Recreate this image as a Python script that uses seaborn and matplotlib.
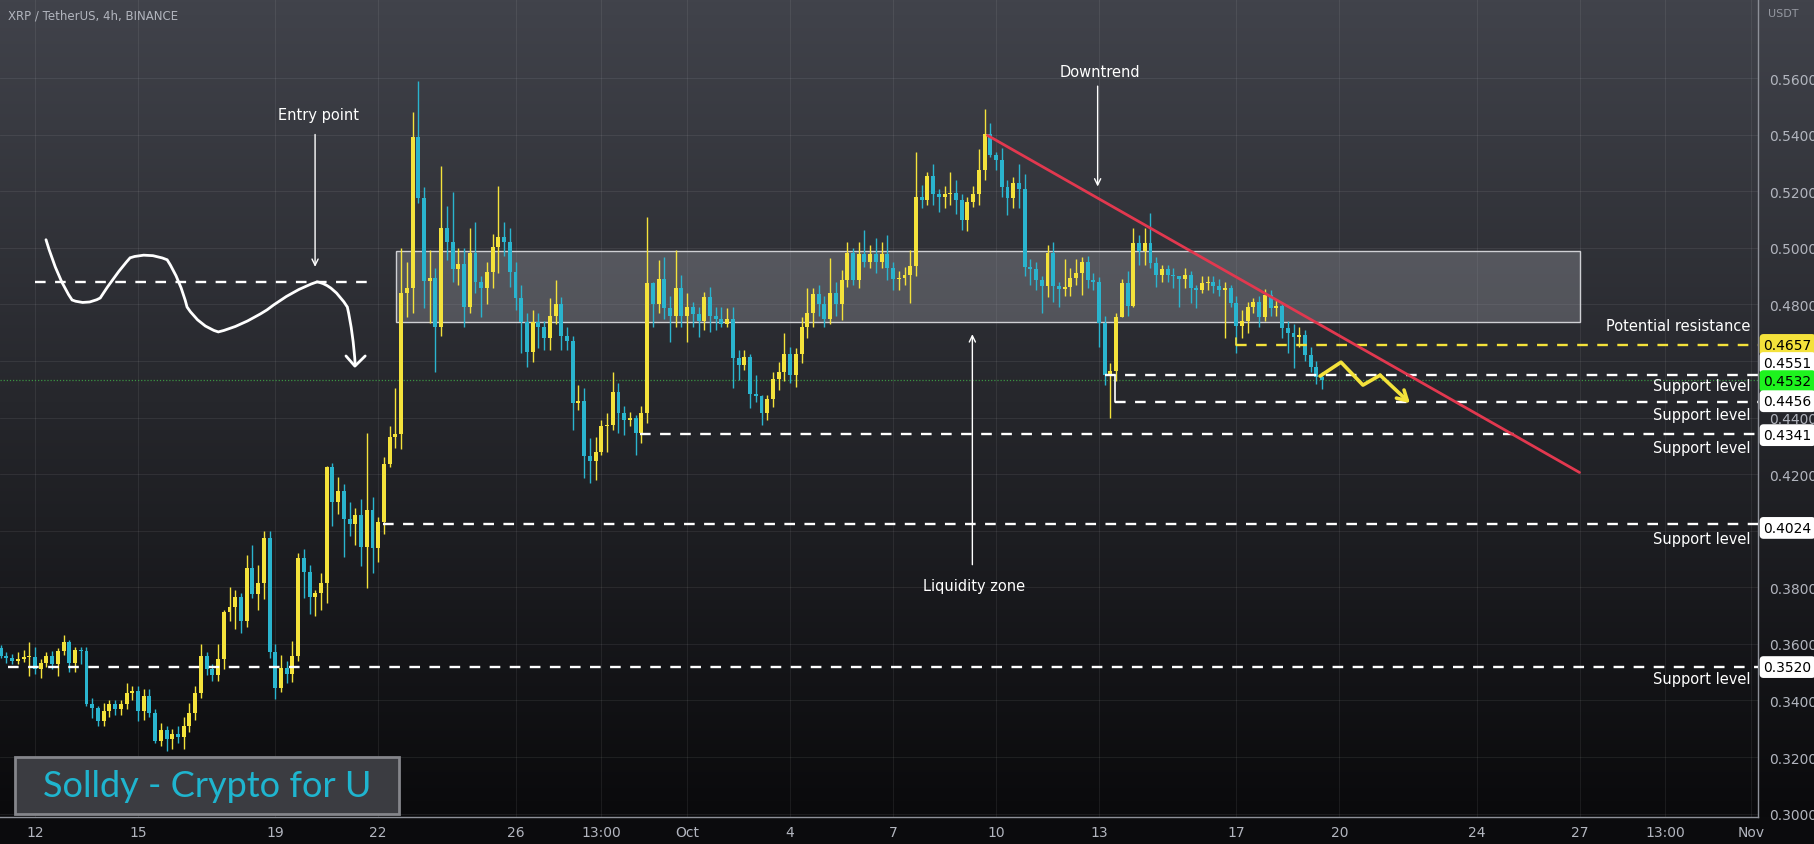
import numpy as np
import pandas as pd
import matplotlib
matplotlib.use('Agg')
import matplotlib.pyplot as plt
import matplotlib.patches as mpatches
import matplotlib.transforms as mtransforms
from matplotlib.path import Path
import seaborn as sns

# XRP / USDT 4h candles (Sep 11 2022 -> Oct 19 2022)
first_open = 0.3586
closes = [
    0.3557, 0.3550, 0.3540, 0.3548, 0.3552, 0.3553, 0.3511, 0.3534, 0.3557, 0.3529,
    0.3575, 0.3606, 0.3534, 0.3580, 0.3574, 0.3386, 0.3374, 0.3327, 0.3362, 0.3386,
    0.3370, 0.3386, 0.3428, 0.3434, 0.3363, 0.3416, 0.3357, 0.3256, 0.3297, 0.3262,
    0.3282, 0.3270, 0.3310, 0.3357, 0.3428, 0.3557, 0.3510, 0.3490, 0.3546, 0.3711,
    0.3729, 0.3764, 0.3682, 0.3869, 0.3777, 0.3817, 0.3976, 0.3571, 0.3444, 0.3515,
    0.3495, 0.3557, 0.3905, 0.3853, 0.3764, 0.3780, 0.3817, 0.4224, 0.4101, 0.4142,
    0.4042, 0.4024, 0.4054, 0.3942, 0.4072, 0.3940, 0.4030, 0.4237, 0.4332, 0.4343,
    0.4841, 0.4860, 0.5391, 0.5178, 0.4883, 0.4895, 0.4720, 0.5071, 0.5021, 0.4925,
    0.4943, 0.4791, 0.4982, 0.4880, 0.4857, 0.4915, 0.5003, 0.5038, 0.5022, 0.4915,
    0.4822, 0.4737, 0.4631, 0.4737, 0.4720, 0.4680, 0.4760, 0.4800, 0.4690, 0.4670,
    0.4450, 0.4460, 0.4265, 0.4245, 0.4280, 0.4370, 0.4375, 0.4490, 0.4415, 0.4390,
    0.4400, 0.4345, 0.4415, 0.4877, 0.4800, 0.4890, 0.4786, 0.4760, 0.4860, 0.4760,
    0.4790, 0.4765, 0.4740, 0.4825, 0.4760, 0.4750, 0.4730, 0.4750, 0.4610, 0.4585,
    0.4615, 0.4485, 0.4475, 0.4415, 0.4465, 0.4535, 0.4560, 0.4625, 0.4550, 0.4625,
    0.4720, 0.4770, 0.4836, 0.4800, 0.4750, 0.4840, 0.4800, 0.4885, 0.4983, 0.4885,
    0.4980, 0.4950, 0.4980, 0.4950, 0.4980, 0.4930, 0.4890, 0.4895, 0.4905, 0.4935,
    0.5180, 0.5170, 0.5253, 0.5190, 0.5180, 0.5190, 0.5195, 0.5170, 0.5097, 0.5163,
    0.5190, 0.5277, 0.5402, 0.5330, 0.5310, 0.5217, 0.5175, 0.5228, 0.5210, 0.4933,
    0.4925, 0.4888, 0.4865, 0.4983, 0.4865, 0.4853, 0.4862, 0.4894, 0.4910, 0.4950,
    0.4887, 0.4880, 0.4735, 0.4550, 0.4565, 0.4756, 0.4876, 0.4795, 0.5018, 0.4990,
    0.5018, 0.4945, 0.4905, 0.4925, 0.4905, 0.4900, 0.4890, 0.4905, 0.4857, 0.4850,
    0.4876, 0.4880, 0.4865, 0.4850, 0.4860, 0.4806, 0.4725, 0.4740, 0.4790, 0.4810,
    0.4756, 0.4834, 0.4787, 0.4795, 0.4716, 0.4700, 0.4686, 0.4692, 0.4621, 0.4580,
    0.4543, 0.4532]

highs = [
    0.3595, 0.3570, 0.3565, 0.3570, 0.3580, 0.3605, 0.3590, 0.3545, 0.3570, 0.3575,
    0.3585, 0.3630, 0.3612, 0.3590, 0.3590, 0.3590, 0.3410, 0.3380, 0.3390, 0.3400,
    0.3400, 0.3400, 0.3460, 0.3450, 0.3450, 0.3440, 0.3440, 0.3370, 0.3320, 0.3310,
    0.3300, 0.3310, 0.3340, 0.3390, 0.3450, 0.3600, 0.3570, 0.3530, 0.3600, 0.3720,
    0.3800, 0.3790, 0.3780, 0.3913, 0.3950, 0.3880, 0.4000, 0.4000, 0.3600, 0.3560,
    0.3540, 0.3610, 0.3920, 0.3937, 0.3880, 0.3790, 0.3850, 0.4230, 0.4238, 0.4190,
    0.4165, 0.4100, 0.4080, 0.4114, 0.4345, 0.4118, 0.4050, 0.4260, 0.4370, 0.4505,
    0.5000, 0.4951, 0.5480, 0.5590, 0.5214, 0.4994, 0.4930, 0.5290, 0.5147, 0.5196,
    0.5000, 0.5000, 0.5070, 0.5090, 0.4900, 0.4950, 0.5050, 0.5220, 0.5090, 0.5070,
    0.4950, 0.4870, 0.4770, 0.4780, 0.4770, 0.4740, 0.4823, 0.4887, 0.4827, 0.4720,
    0.4690, 0.4515, 0.4504, 0.4327, 0.4330, 0.4391, 0.4415, 0.4560, 0.4522, 0.4440,
    0.4420, 0.4410, 0.4440, 0.5110, 0.4880, 0.4958, 0.4969, 0.4830, 0.4994, 0.4905,
    0.4840, 0.4810, 0.4790, 0.4845, 0.4862, 0.4790, 0.4790, 0.4788, 0.4790, 0.4640,
    0.4640, 0.4625, 0.4550, 0.4480, 0.4480, 0.4560, 0.4596, 0.4699, 0.4650, 0.4646,
    0.4756, 0.4859, 0.4860, 0.4870, 0.4830, 0.4965, 0.4880, 0.4923, 0.5022, 0.5000,
    0.5020, 0.5064, 0.5010, 0.5036, 0.5020, 0.5045, 0.4950, 0.4920, 0.4933, 0.4994,
    0.5340, 0.5224, 0.5270, 0.5295, 0.5210, 0.5218, 0.5267, 0.5240, 0.5190, 0.5180,
    0.5220, 0.5348, 0.5490, 0.5440, 0.5340, 0.5355, 0.5240, 0.5250, 0.5295, 0.5260,
    0.4960, 0.4950, 0.4900, 0.5010, 0.5022, 0.4880, 0.4960, 0.4930, 0.4960, 0.4969,
    0.4970, 0.4910, 0.4898, 0.4760, 0.4593, 0.4770, 0.4890, 0.4920, 0.5070, 0.5045,
    0.5070, 0.5125, 0.4969, 0.4940, 0.4940, 0.4930, 0.4900, 0.4930, 0.4920, 0.4870,
    0.4900, 0.4900, 0.4900, 0.4890, 0.4880, 0.4870, 0.4830, 0.4780, 0.4810, 0.4823,
    0.4830, 0.4855, 0.4852, 0.4820, 0.4810, 0.4740, 0.4730, 0.4720, 0.4710, 0.4650,
    0.4600, 0.4560]

lows = [
    0.3550, 0.3534, 0.3530, 0.3530, 0.3535, 0.3487, 0.3495, 0.3480, 0.3520, 0.3510,
    0.3487, 0.3560, 0.3500, 0.3500, 0.3530, 0.3380, 0.3339, 0.3310, 0.3310, 0.3340,
    0.3350, 0.3350, 0.3370, 0.3400, 0.3327, 0.3330, 0.3340, 0.3250, 0.3240, 0.3220,
    0.3230, 0.3250, 0.3230, 0.3290, 0.3330, 0.3410, 0.3490, 0.3468, 0.3468, 0.3510,
    0.3680, 0.3652, 0.3640, 0.3660, 0.3763, 0.3720, 0.3760, 0.3550, 0.3405, 0.3430,
    0.3460, 0.3465, 0.3540, 0.3763, 0.3706, 0.3700, 0.3720, 0.3745, 0.4018, 0.4060,
    0.3906, 0.3980, 0.3950, 0.3876, 0.3798, 0.3850, 0.3890, 0.3990, 0.4224, 0.4291,
    0.4290, 0.4756, 0.4770, 0.5160, 0.4788, 0.4734, 0.4560, 0.4690, 0.4958, 0.4880,
    0.4870, 0.4720, 0.4770, 0.4840, 0.4756, 0.4800, 0.4860, 0.4910, 0.4970, 0.4863,
    0.4780, 0.4628, 0.4579, 0.4596, 0.4646, 0.4640, 0.4640, 0.4730, 0.4640, 0.4640,
    0.4355, 0.4426, 0.4185, 0.4170, 0.4178, 0.4267, 0.4277, 0.4355, 0.4345, 0.4340,
    0.4370, 0.4267, 0.4309, 0.4380, 0.4720, 0.4770, 0.4750, 0.4667, 0.4720, 0.4720,
    0.4667, 0.4720, 0.4685, 0.4710, 0.4703, 0.4710, 0.4720, 0.4720, 0.4504, 0.4533,
    0.4568, 0.4433, 0.4455, 0.4373, 0.4391, 0.4437, 0.4497, 0.4530, 0.4522, 0.4510,
    0.4593, 0.4680, 0.4720, 0.4760, 0.4720, 0.4730, 0.4760, 0.4745, 0.4862, 0.4870,
    0.4860, 0.4933, 0.4930, 0.4910, 0.4930, 0.4887, 0.4852, 0.4850, 0.4870, 0.4805,
    0.4900, 0.5142, 0.5153, 0.5150, 0.5128, 0.5140, 0.5150, 0.5120, 0.5064, 0.5060,
    0.5146, 0.5150, 0.5240, 0.5320, 0.5277, 0.5180, 0.5118, 0.5142, 0.5140, 0.4900,
    0.4870, 0.4852, 0.4770, 0.4827, 0.4810, 0.4790, 0.4830, 0.4830, 0.4870, 0.4834,
    0.4860, 0.4850, 0.4650, 0.4515, 0.4400, 0.4530, 0.4760, 0.4760, 0.4790, 0.4940,
    0.4940, 0.4930, 0.4862, 0.4880, 0.4880, 0.4860, 0.4790, 0.4860, 0.4805, 0.4788,
    0.4840, 0.4850, 0.4840, 0.4830, 0.4680, 0.4790, 0.4628, 0.4680, 0.4700, 0.4770,
    0.4720, 0.4740, 0.4760, 0.4760, 0.4680, 0.4628, 0.4575, 0.4650, 0.4600, 0.4560,
    0.4520, 0.4500]

# time axis
start = pd.Timestamp('2022-09-11 00:00')
tick_dates = ['2022-09-12', '2022-09-15', '2022-09-19', '2022-09-22', '2022-09-26',
              '2022-09-28 12:00', '2022-10-01', '2022-10-04', '2022-10-07', '2022-10-10',
              '2022-10-13', '2022-10-17', '2022-10-20', '2022-10-24', '2022-10-27',
              '2022-10-29 12:00', '2022-11-01']
tick_labels = ['12', '15', '19', '22', '26', '13:00', 'Oct', '4', '7', '10', '13',
               '17', '20', '24', '27', '13:00', 'Nov']
price_ticks = [0.30, 0.32, 0.34, 0.36, 0.38, 0.40, 0.42, 0.44, 0.46, 0.48, 0.50,
               0.52, 0.54, 0.56]
price_labels = ['0.3000', '0.3200', '0.3400', '0.3600', '0.3800', '', '0.4200', '0.4400',
                '', '0.4800', '0.5000', '0.5200', '0.5400', '0.5600']  # 0.40 / 0.46 hidden by tags

# drawn levels (price, start time)
support_levels = [0.4551, 0.4456, 0.4341, 0.4024, 0.3520]
support_starts = ['2022-10-13 04:00', '2022-10-13 11:00', '2022-09-29 15:00',
                  '2022-09-22 03:00', '2022-09-11 05:00']
resistance_level = 0.4657
resistance_start = '2022-10-17 00:00'
last_price = 0.4532
zone_low, zone_high = 0.4738, 0.4990
zone_start, zone_end = '2022-09-22 12:30', '2022-10-27 00:00'
trend_times = ['2022-10-09 18:00', '2022-10-27 00:00']
trend_prices = [0.5398, 0.4206]
entry_level = 0.4881
entry_span = ['2022-09-12 00:00', '2022-09-21 22:00']

# hand drawn scenario curve (days from start, price) - on-curve / control points
curve_days = [1.32, 1.67, 2.08, 2.49, 2.90, 3.33, 3.77, 4.29, 4.85, 5.23, 5.43,
              5.81, 6.34, 6.98, 7.76, 8.52, 9.22, 9.69, 10.10, 10.27, 10.33]
curve_prices = [0.5029, 0.4887, 0.4816, 0.4795, 0.4823, 0.4905, 0.4965, 0.4987,
                0.4958, 0.4887, 0.4791, 0.4721, 0.4703, 0.4721, 0.4781, 0.4852,
                0.4880, 0.4870, 0.4791, 0.4699, 0.4586]
curve_head_days = [10.06, 10.32, 10.62]
curve_head_prices = [0.4618, 0.4582, 0.4618]

# projected zigzag
zig_days = [38.44, 39.05, 39.69, 40.19, 41.06]
zig_prices = [0.4547, 0.4596, 0.4515, 0.4550, 0.4451]

# right hand labels (text, price)
side_texts = ['Potential resistance', 'Support level', 'Support level', 'Support level',
              'Support level', 'Support level']
side_prices = [0.4724, 0.4515, 0.4412, 0.4295, 0.3972, 0.3479]

# price tags on the axis (text, price, face colour)
tag_texts = ['0.4657', '0.4551', '0.4532', '0.4456', '0.4341', '0.4024', '0.3520']
tag_prices = [0.4657, 0.4593, 0.4529, 0.4458, 0.4338, 0.4010, 0.3518]
tag_colors = ['#f4e23b', 'white', '#1ef31e', 'white', 'white', 'white', 'white']


def day(ts):
    return (pd.Timestamp(ts) - start) / pd.Timedelta(days=1)


times = pd.date_range(start, periods=len(closes), freq='4h')
df = pd.DataFrame({'t': times, 'close': closes, 'high': highs, 'low': lows})
df['open'] = [first_open] + closes[:-1]
df['x'] = (df['t'] - start) / pd.Timedelta(days=1)
df['high'] = df[['high', 'open', 'close']].max(axis=1)
df['low'] = df[['low', 'open', 'close']].min(axis=1)
df['up'] = df['close'] >= df['open']

UP = '#f4e23b'
DOWN = '#2ab4ce'
TXT = '#b2b5be'
narrow = ['Liberation Sans Narrow', 'DejaVu Sans']

sns.set_style('dark')
plt.rcParams['font.family'] = ['DejaVu Sans']

fig = plt.figure(figsize=(18.14, 8.45), dpi=100, facecolor='#0b0b0d')
ax_pos = [0, 27 / 845, 1758 / 1814, 818 / 845]

# background gradient (chart + price scale)
bg = fig.add_axes([0, 27 / 845, 1, 818 / 845], zorder=0)
top_c = np.array([0x41, 0x43, 0x4b]) / 255
bot_c = np.array([0x0a, 0x0a, 0x0c]) / 255
ramp = np.linspace(0, 1, 256)[:, None, None]
bg.imshow(top_c * (1 - ramp) + bot_c * ramp, aspect='auto', extent=[0, 1, 0, 1])
bg.axis('off')

ax = fig.add_axes(ax_pos, zorder=1)
ax.set_facecolor('none')

# liquidity zone
ax.add_patch(mpatches.Rectangle((day(zone_start), zone_low), day(zone_end) - day(zone_start),
                                zone_high - zone_low, facecolor='#a3a5ad', alpha=0.33,
                                edgecolor='none', zorder=1))
ax.add_patch(mpatches.Rectangle((day(zone_start), zone_low), day(zone_end) - day(zone_start),
                                zone_high - zone_low, facecolor='none',
                                edgecolor='#cfd0d4', lw=1.0, zorder=1.1))

# candles
colors = np.where(df['up'], UP, DOWN)
ax.vlines(df['x'], df['low'], df['high'], colors=colors, lw=1.0, zorder=2.9)
body_lo = df[['open', 'close']].min(axis=1)
body_h = (df['close'] - df['open']).abs().clip(lower=0.0004)
ax.bar(df['x'], body_h, bottom=body_lo, width=0.115, color=colors, lw=0, zorder=3)

# current price line
ax.axhline(last_price, color='#3d9e46', ls=(0, (1, 1.5)), lw=0.9, alpha=0.9, zorder=2)

right_edge = 51.2
dash = (0, (4.5, 4))
for lvl, st in zip(support_levels, support_starts):
    ax.plot([day(st), right_edge], [lvl, lvl], color='white', lw=1.7, ls=dash, zorder=4)
ax.plot([day(support_starts[1])] * 2, [support_levels[1], support_levels[0]],
        color='white', lw=1.2, zorder=4)
ax.plot([day(resistance_start), right_edge], [resistance_level] * 2, color=UP,
        lw=1.7, ls=dash, zorder=4)
ax.plot([day(resistance_start)] * 2, [resistance_level, resistance_level + 0.0025],
        color=UP, lw=1.2, zorder=4)
ax.plot([day(t) for t in entry_span], [entry_level] * 2, color='white', lw=1.7,
        ls=dash, zorder=4)

# downtrend line
sns.lineplot(x=[day(t) for t in trend_times], y=trend_prices, color='#e2384f', lw=2,
             ax=ax, zorder=5)

# scenario curve (smooth quadratic path through the points)
verts = list(zip(curve_days, curve_prices))
codes = [Path.MOVETO] + [Path.CURVE3] * (len(verts) - 1)
ax.add_patch(mpatches.PathPatch(Path(verts, codes), facecolor='none', edgecolor='white',
                                lw=2, zorder=5, capstyle='round'))
sns.lineplot(x=curve_head_days, y=curve_head_prices, sort=False, estimator=None,
             color='white', lw=2, ax=ax, zorder=5)

# zigzag projection
sns.lineplot(x=zig_days[:-1], y=zig_prices[:-1], sort=False, estimator=None, color=UP,
             lw=2.6, ax=ax, zorder=5)
ax.annotate('', xy=(zig_days[-1], zig_prices[-1]), xytext=(zig_days[-2], zig_prices[-2]),
            arrowprops=dict(arrowstyle='->,head_length=0.7,head_width=0.4', color=UP,
                            lw=2.6, shrinkA=0, shrinkB=0), zorder=5)

# callouts
arrow_kw = dict(arrowstyle='->,head_length=0.45,head_width=0.22', color='white', lw=1.0,
                shrinkA=0, shrinkB=0)
ax.annotate('', xy=(9.16, 0.4933), xytext=(9.16, 0.5401), arrowprops=arrow_kw)
ax.text(9.25, 0.5472, 'Entry point', color='white', fontsize=10.5, ha='center', va='center')
ax.annotate('', xy=(31.96, 0.5217), xytext=(31.96, 0.5572), arrowprops=arrow_kw)
ax.text(32.02, 0.5625, 'Downtrend', color='white', fontsize=10.5, ha='center', va='center')
ax.annotate('', xy=(28.31, 0.4695), xytext=(28.31, 0.3880), arrowprops=arrow_kw)
ax.text(28.35, 0.3806, 'Liquidity zone', color='white', fontsize=10.5, ha='center',
        va='center')

trans = mtransforms.blended_transform_factory(ax.transAxes, ax.transData)
for txt, p in zip(side_texts, side_prices):
    ax.text(0.9955, p, txt, transform=trans, color='white', fontsize=10.5, ha='right',
            va='center', zorder=6)

# axes styling
ax.set_xlim(-0.02, right_edge)
ax.set_ylim(0.29879, 0.58801)
ax.set_xticks([day(t) for t in tick_dates])
ax.set_xticklabels(tick_labels, family=narrow)
ax.set_yticks(price_ticks)
ax.set_yticklabels(price_labels, family=narrow)
ax.yaxis.tick_right()
ax.tick_params(axis='x', length=0, pad=6, labelsize=10, colors=TXT)
ax.tick_params(axis='y', length=0, pad=8, labelsize=10, colors=TXT)
ax.grid(True, color='white', alpha=0.07, lw=0.8)
ax.set_axisbelow(True)
for s in ['top', 'left']:
    ax.spines[s].set_visible(False)
for s in ['bottom', 'right']:
    ax.spines[s].set_color('#8d9098')
    ax.spines[s].set_linewidth(1.0)

for txt, p, fc in zip(tag_texts, tag_prices, tag_colors):
    ax.annotate(txt, xy=(1.0, p), xycoords=trans, xytext=(4, 0), textcoords='offset points',
                ha='left', va='center', fontsize=10, color='black', family=narrow,
                bbox=dict(boxstyle='round,pad=0.28', fc=fc, ec='none'),
                annotation_clip=False, zorder=7)

# watermark
ax.add_patch(mpatches.Rectangle((15 / 1758, 3 / 818), 384 / 1758, 57 / 818,
                                transform=ax.transAxes, facecolor='#3b3c41',
                                edgecolor='#85868b', lw=2, zorder=8))
ax.text(207 / 1758, 31 / 818, 'Solldy - Crypto for U', transform=ax.transAxes,
        color='#1fb5cf', fontsize=26, ha='center', va='center', zorder=9,
        family=['Lato', 'DejaVu Sans'])

fig.text(8 / 1814, 1 - 16 / 845, 'XRP / TetherUS, 4h, BINANCE', color=TXT, fontsize=8.5,
         va='center', ha='left')
fig.text(1768 / 1814, 1 - 14 / 845, 'USDT', color='#9598a1', fontsize=8, va='center',
         ha='left', family=narrow)

fig.savefig('out.png', dpi=100, facecolor=fig.get_facecolor())
